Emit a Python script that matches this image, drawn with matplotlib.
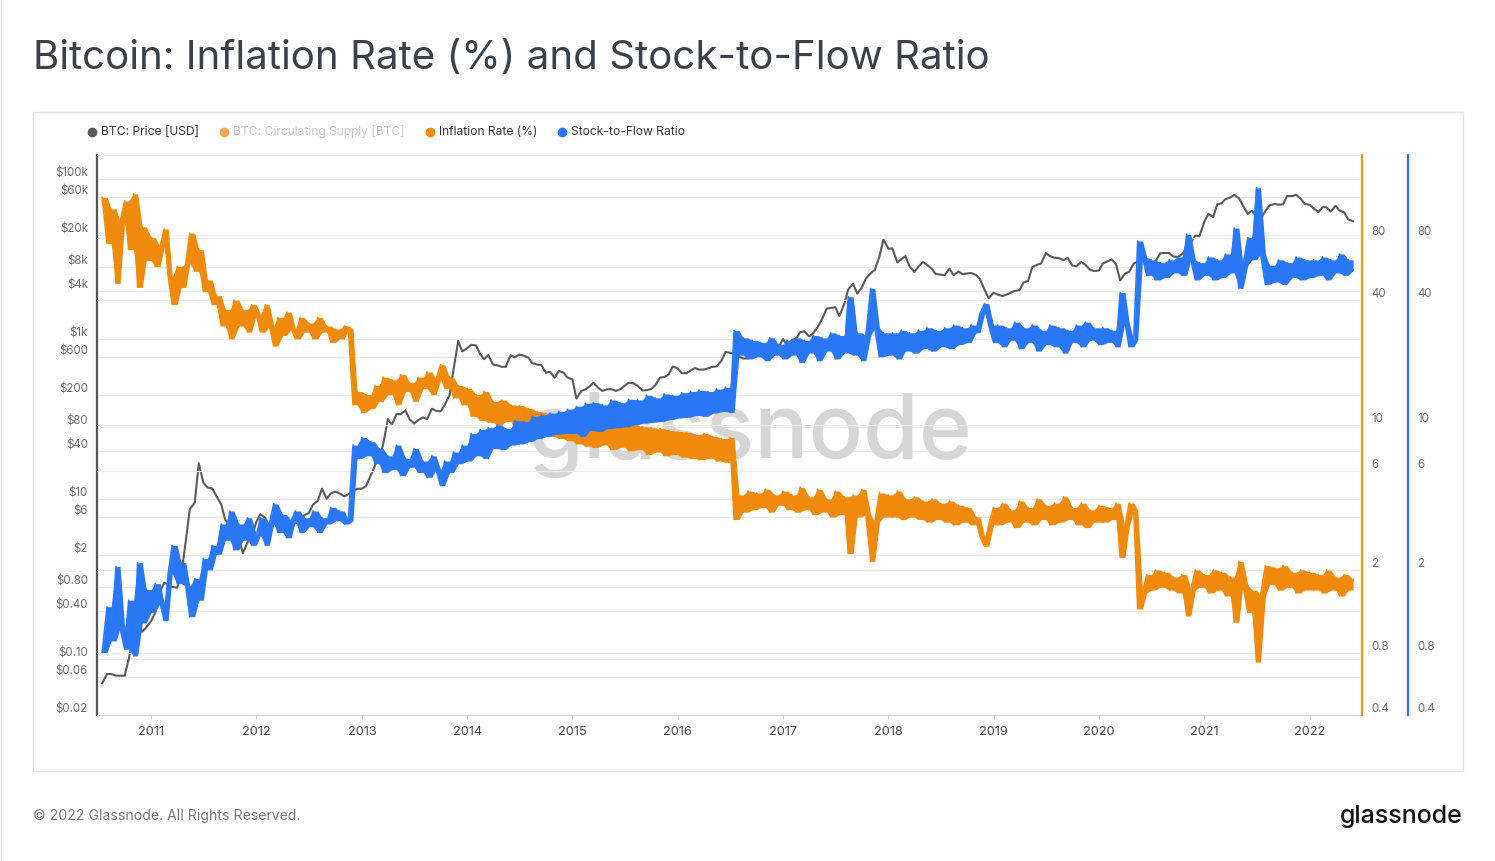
import matplotlib.pyplot as plt
import pandas as pd
from matplotlib.lines import Line2D
from matplotlib.patches import Rectangle
from matplotlib.ticker import NullLocator

plt.rcParams['font.family'] = ['Inter', 'DejaVu Sans']

# semi-monthly readings (1st and 15th), starting 2010-07-15
price = (
    [0.05, 0.065, 0.065, 0.062, 0.062, 0.062, 0.10, 0.20, 0.28, 0.22, 0.25]  # 2010
    + [0.30, 0.38, 0.70, 0.90, 0.85, 0.80, 0.78, 1.1, 3.0, 7.5, 9.0, 28,
       16, 14, 13.5, 11, 8.5, 5.5, 4.8, 3.8, 3.2, 2.1, 2.9, 3.3]  # 2011
    + [5.2, 6.5, 5.8, 4.4, 4.9, 5.2, 4.9, 5.0, 5.0, 5.0, 5.2, 6.3,
       6.7, 8.5, 9.5, 13.5, 10.1, 11.8, 12.4, 11.8, 10.8, 11.5, 12.5, 13.4]  # 2012
    + [13.5, 14.5, 20, 26, 34, 47, 100, 85, 116, 115, 128, 100,
       88, 97, 105, 100, 135, 127, 125, 150, 200, 420, 950, 700]  # 2013
    + [770, 850, 830, 650, 560, 630, 480, 470, 450, 450, 630, 590,
       640, 620, 590, 500, 480, 475, 380, 390, 330, 400, 380, 330]  # 2014
    + [315, 180, 225, 235, 255, 285, 245, 225, 235, 237, 225, 235,
       260, 285, 280, 260, 228, 230, 237, 263, 330, 335, 360, 455]  # 2015
    + [430, 375, 375, 405, 435, 415, 416, 430, 450, 455, 535, 690,
       675, 660, 605, 570, 575, 608, 615, 640, 730, 745, 750, 780]  # 2016
    + [1000, 820, 980, 1010, 1220, 1250, 1080, 1180, 1420, 1750, 2400, 2450,
       2500, 1950, 2730, 4200, 4900, 3700, 4400, 5700, 6700, 7300, 10800, 17600]  # 2017
    + [13500, 13600, 9100, 10000, 10900, 8200, 6900, 8000, 9200, 8500, 7500, 6500,
       6400, 6300, 7600, 6300, 7000, 6500, 6600, 6700, 6350, 5600, 4100, 3250]  # 2018
    + [3800, 3600, 3450, 3600, 3800, 4000, 4100, 5100, 5350, 7900, 8500, 8800,
       11900, 10900, 10400, 10300, 9700, 10300, 8300, 8150, 9200, 8500, 7400, 7100]  # 2019
    + [7200, 8800, 9400, 9900, 8600, 5400, 6600, 6900, 8800, 9300, 10200, 9400,
       9200, 9200, 11800, 11900, 11900, 10800, 10600, 11500, 13800, 16000, 19700, 19400]  # 2020
    + [29300, 36800, 33500, 48700, 49600, 56000, 59000, 63300, 57800, 46700, 36700, 40200,
       33500, 31800, 39900, 47000, 48800, 48000, 48200, 61500, 61300, 63600, 57200, 48800]  # 2021
    + [47700, 43100, 38700, 44600, 44400, 39300, 46300, 40500, 38500, 31300, 29800]  # 2022
)

inflation = (
    [125, 75, 110, 48, 95, 120, 70, 130, 46, 90, 62]  # 2010
    + [80, 58, 72, 88, 52, 38, 58, 46, 60, 84, 55, 70,
       44, 50, 38, 42, 30, 36, 26, 40, 30, 36, 28, 38]  # 2011
    + [34, 28, 38, 30, 24, 33, 27, 35, 29, 26, 33, 28,
       31, 26, 33, 28, 30, 25, 29, 26, 30, 29, 12.5, 14.5]  # 2012
    + [11.5, 14, 12, 15.5, 13, 17, 14, 16.5, 12.5, 17.5, 14.5, 16,
       13, 17, 15, 18, 14, 16.5, 19.5, 15, 17, 13.5, 15.5, 12.5]  # 2013
    + [15, 11, 14, 10.5, 14.5, 10.3, 13, 10, 13.2, 10.4, 12.5, 9.5,
       12.4, 9.6, 12, 9.1, 11.6, 8.9, 11.4, 8.8, 11.1, 8.6, 11, 8.4]  # 2014
    + [11, 8.1, 11.3, 7.9, 10.6, 7.8, 10.8, 8.0, 10.4, 7.6, 10.3, 7.8,
       10.2, 7.5, 10, 7.6, 9.8, 7.2, 9.7, 7.4, 9.6, 7.1, 9.4, 7.2]  # 2015
    + [9.3, 7.0, 9.2, 6.9, 9.0, 6.8, 9.1, 6.9, 8.8, 6.7, 8.6, 6.6,
       8.7, 3.5, 4.6, 3.8, 4.8, 3.9, 4.7, 4.0, 4.9, 3.8, 4.6, 4.1]  # 2016
    + [4.8, 3.9, 4.6, 3.8, 5.0, 3.9, 4.5, 3.7, 4.9, 3.8, 4.4, 3.6,
       4.8, 3.7, 4.5, 2.4, 4.6, 3.6, 4.9, 3.7, 2.2, 3.4, 4.7, 3.6]  # 2017
    + [4.6, 3.6, 4.8, 3.5, 4.4, 3.6, 4.5, 3.5, 4.3, 3.4, 4.4, 3.5,
       4.2, 3.4, 4.3, 3.3, 4.1, 3.4, 4.0, 3.3, 3.6, 2.9, 2.6, 3.3]  # 2018
    + [4.0, 3.3, 4.2, 3.4, 3.9, 3.2, 4.3, 3.4, 4.0, 3.3, 4.4, 3.5,
       4.1, 3.3, 4.2, 3.4, 4.5, 3.5, 4.0, 3.3, 4.2, 3.2, 3.9, 3.4]  # 2019
    + [4.1, 3.4, 4.0, 3.5, 4.2, 2.3, 3.2, 4.2, 3.9, 1.3, 1.55, 1.9,
       1.6, 2.0, 1.65, 1.95, 1.6, 1.85, 1.55, 1.9, 1.2, 1.6, 2.0, 1.65]  # 2020
    + [1.9, 1.55, 2.0, 1.6, 1.95, 1.5, 1.85, 1.12, 2.2, 1.7, 1.25, 1.6,
       0.72, 1.5, 2.1, 1.7, 2.05, 1.6, 2.1, 1.65, 1.95, 1.55, 2.0, 1.6]  # 2021
    + [1.95, 1.6, 1.9, 1.55, 2.0, 1.6, 1.85, 1.5, 1.9, 1.6, 1.8]  # 2022
)

s2f = (
    [0.80, 1.33, 0.91, 2.08, 1.05, 0.83, 1.43, 0.77, 2.17, 1.11, 1.61]  # 2010
    + [1.25, 1.72, 1.39, 1.14, 1.92, 2.63, 1.72, 2.17, 1.67, 1.19, 1.82, 1.43,
       2.27, 2.0, 2.63, 2.38, 3.33, 2.78, 3.85, 2.5, 3.33, 2.78, 3.57, 2.63]  # 2011
    + [2.94, 3.57, 2.63, 3.33, 4.17, 3.03, 3.70, 2.86, 3.45, 3.85, 3.03, 3.57,
       3.23, 3.85, 3.03, 3.57, 3.33, 4.0, 3.45, 3.85, 3.33, 3.45, 8.0, 6.9]  # 2012
    + [8.7, 7.1, 8.3, 6.5, 7.7, 5.9, 7.1, 6.1, 8.0, 5.7, 6.9, 6.25,
       7.7, 5.9, 6.7, 5.6, 7.1, 6.1, 5.1, 6.7, 5.9, 7.4, 6.5, 8.0]  # 2013
    + [6.7, 9.1, 7.1, 9.5, 6.9, 9.7, 7.7, 10, 7.6, 9.6, 8.0, 10.5,
       8.1, 10.4, 8.3, 11, 8.6, 11.2, 8.8, 11.4, 9.0, 11.6, 9.1, 11.9]  # 2014
    + [9.1, 12.3, 8.8, 12.7, 9.4, 12.8, 9.3, 12.5, 9.6, 13.2, 9.7, 12.8,
       9.8, 13.3, 10, 13.2, 10.2, 13.9, 10.3, 13.5, 10.4, 14.1, 10.6, 13.9]  # 2015
    + [10.8, 14.3, 10.9, 14.5, 11.1, 14.7, 11.0, 14.5, 11.4, 14.9, 11.6, 15.2,
       11.5, 28.5, 21.7, 26.3, 20.8, 25.6, 21.3, 25, 20.4, 26.3, 21.7, 24.4]  # 2016
    + [20.8, 25.6, 21.7, 26.3, 20, 25.6, 22.2, 27, 20.4, 26.3, 22.7, 27.8,
       20.8, 27, 22.2, 41.5, 21.7, 27.8, 20.4, 27, 45.5, 29.4, 21.3, 27.8]  # 2017
    + [21.7, 27.8, 20.8, 28.6, 22.7, 27.8, 22.2, 28.6, 23.3, 29.4, 22.7, 28.6,
       23.8, 29.4, 23.3, 30.3, 24.4, 29.4, 25, 30.3, 27.8, 34.5, 38.5, 30.3]  # 2018
    + [25, 30.3, 23.8, 29.4, 25.6, 31.3, 23.3, 29.4, 25, 30.3, 22.7, 28.6,
       24.4, 30.3, 23.8, 29.4, 22.2, 28.6, 25, 30.3, 23.8, 31.3, 25.6, 29.4]  # 2019
    + [24.4, 29.4, 25, 28.6, 23.8, 43.5, 31.3, 23.8, 25.6, 77, 64.5, 52.6,
       62.5, 50, 60.6, 51.3, 62.5, 54, 64.5, 52.6, 83, 62.5, 50, 60.6]  # 2020
    + [52.6, 64.5, 50, 62.5, 51.3, 66.7, 54, 89, 45.5, 58.8, 80, 62.5,
       139, 66.7, 47.6, 58.8, 48.8, 62.5, 47.6, 60.6, 51.3, 64.5, 50, 62.5]  # 2021
    + [51.3, 62.5, 52.6, 64.5, 50, 62.5, 54, 66.7, 52.6, 62.5, 55.6]  # 2022
)

assert len(price) == len(inflation) == len(s2f)
dates = pd.date_range("2010-07-15", periods=len(price), freq="SMS")

left_ticks = [100000, 60000, 20000, 8000, 4000, 1000, 600, 200, 80, 40, 10, 6, 2,
              0.8, 0.4, 0.1, 0.06, 0.02]
left_labels = ["$100k", "$60k", "$20k", "$8k", "$4k", "$1k", "$600", "$200", "$80",
               "$40", "$10", "$6", "$2", "$0.80", "$0.40", "$0.10", "$0.06", "$0.02"]
right_ticks = [80, 40, 10, 6, 2, 0.8, 0.4]
right_labels = ["80", "40", "10", "6", "2", "0.8", "0.4"]
years = list(range(2011, 2023))

W, H = 1495, 861
C_PRICE = "#5a5a5a"
C_INFL = "#F08A0C"
C_S2F = "#2A77F6"
GRID = "#ececec"


def noisy_line(a, vals, color):
    # band between neighbouring readings, so the daily noise reads as a dense trace
    s = pd.Series(vals, index=dates)
    lo = s.rolling(2, min_periods=1).min()
    hi = s.rolling(2, min_periods=1).max()
    a.fill_between(dates, lo, hi, color=color, lw=0)
    a.plot(dates, vals, color=color, lw=1.2)


fig = plt.figure(figsize=(W / 100, H / 100), dpi=100)
fig.patch.set_facecolor("white")

ax = fig.add_axes([97 / W, 1 - 715 / H, 1263 / W, 560 / H])
ax.set_yscale("log")
ax.set_ylim(0.02, 200000)
ax.set_xlim(pd.Timestamp("2010-06-27"), pd.Timestamp("2022-06-25"))

for v in left_ticks:
    ax.axhline(v, color=GRID, lw=0.8, zorder=0)

ax.text(0.517, 0.50, "glassnode", transform=ax.transAxes, fontsize=65,
        color="#d6d6d6", ha="center", va="center", zorder=1, fontweight="medium")

ax.plot(dates, price, color=C_PRICE, lw=1.5, zorder=3)

ax2 = ax.twinx()
ax2.set_yscale("log")
ax2.set_ylim(0.4, 200)
for v in right_ticks:
    ax2.axhline(v, color=GRID, lw=0.8, zorder=0)
noisy_line(ax2, inflation, C_INFL)

ax3 = ax.twinx()
ax3.set_yscale("log")
ax3.set_ylim(0.4, 200)
noisy_line(ax3, s2f, C_S2F)

# spines
ax.spines["left"].set_color("#555555")
ax.spines["left"].set_linewidth(1.6)
ax.spines["bottom"].set_color("#cfcfcf")
ax.spines["bottom"].set_linewidth(0.8)
ax.spines["top"].set_color("#e6e6e6")
ax.spines["top"].set_linewidth(0.8)
ax.spines["right"].set_visible(False)
for a, col, off in [(ax2, "#F7931A", 1.5), (ax3, "#2B6FF7", 34.6)]:
    for s in ["left", "top", "bottom"]:
        a.spines[s].set_visible(False)
    a.spines["right"].set_color(col)
    a.spines["right"].set_linewidth(1.6)
    a.spines["right"].set_position(("outward", off))

# ticks
ax.set_yticks(left_ticks)
ax.set_yticklabels(left_labels)
ax.yaxis.set_minor_locator(NullLocator())
ax.tick_params(axis="y", length=0, pad=6.5, labelsize=8.3, labelcolor="#6b6b6b")

for a in (ax2, ax3):
    a.set_yticks(right_ticks)
    a.set_yticklabels(right_labels)
    a.yaxis.set_minor_locator(NullLocator())
    a.tick_params(axis="y", length=0, pad=6.5, labelsize=8.3, labelcolor="#6b6b6b")

for lbl in ax.get_yticklabels() + ax2.get_yticklabels() + ax3.get_yticklabels():
    lbl.set_verticalalignment("bottom")

ax.set_xticks([pd.Timestamp(f"{y}-01-01") for y in years])
ax.set_xticklabels([str(y) for y in years])
ax.xaxis.set_minor_locator(NullLocator())
ax.tick_params(axis="x", length=3, color="#cfcfcf", pad=5, labelsize=9.2,
               labelcolor="#444444")

# card frame
fig.add_artist(Rectangle((33 / W, 1 - 771 / H), (1463 - 33) / W, (771 - 112) / H,
                         fill=False, ec="#e3e3e3", lw=1, transform=fig.transFigure))
fig.add_artist(Line2D([0.5 / W, 0.5 / W], [0, 1], color="#e3e3e3", lw=1,
                      transform=fig.transFigure))

# title
fig.text(33 / W, 1 - 59 / H, "Bitcoin: Inflation Rate (%) and Stock-to-Flow Ratio",
         fontsize=29, color="#3b4049", va="center")

# legend
legend_items = [
    (92, "BTC: Price [USD]", C_PRICE, "#333333"),
    (224, "BTC: Circulating Supply [BTC]", "#F7A54E", "#c8c8c8"),
    (430, "Inflation Rate (%)", C_INFL, "#333333"),
    (562, "Stock-to-Flow Ratio", C_S2F, "#333333"),
]
for x, label, dot, txt in legend_items:
    fig.add_artist(Line2D([x / W], [1 - 132 / H], marker="o", ms=6, color=dot,
                          lw=0, transform=fig.transFigure))
    fig.text((x + 9) / W, 1 - 132 / H, label, color=txt, fontsize=8.7, va="center")

# footer
fig.text(33 / W, 1 - 816 / H, "© 2022 Glassnode. All Rights Reserved.",
         fontsize=10.1, color="#777777", va="center")
fig.text(1463 / W, 1 - 816 / H, "glassnode", fontsize=18, color="#111111",
         ha="right", va="center", fontweight="medium")

fig.savefig("out.png", dpi=100)
